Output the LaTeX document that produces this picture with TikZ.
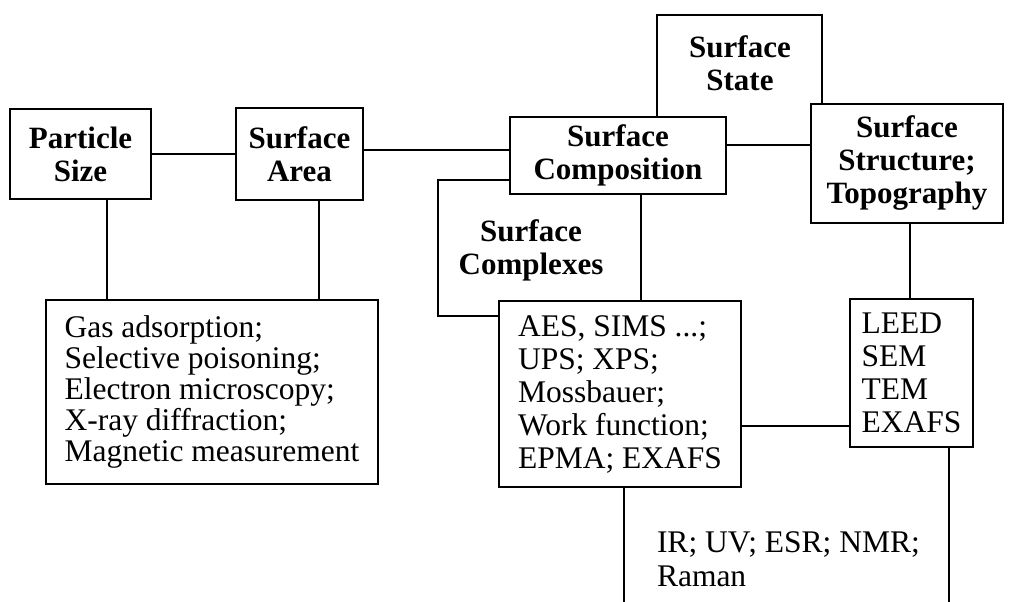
\documentclass[tikz,border=0pt]{standalone}
\usepackage{fontspec}
\setmainfont{Liberation Serif}
\begin{document}
\begin{tikzpicture}[x=1pt,y=-1pt,line width=2pt,
  box/.style={draw,fill=white,rectangle,inner sep=0pt,line width=2pt},
  head/.style={font=\fontsize{31}{33}\selectfont\bfseries,align=center},
  body/.style={font=\fontsize{31.5}{#1}\selectfont,align=left},
  body/.default=32]
\useasboundingbox (0,0) rectangle (1012,602);
% coordinates for connector positions
\coordinate (xP) at (107,0);
\coordinate (xA) at (319,0);
\coordinate (yAC) at (0,150);
\coordinate (xL) at (910,0);
\coordinate (yAL) at (0,426);
\coordinate (xAd) at (624,0);
\coordinate (xLd) at (949,0);
\coordinate (bot) at (0,602);
% partially hidden boxes
\node[box,minimum width=165,minimum height=130] (state) at (739.5,80) {};
\node[head,inner sep=0pt] (statet) at (740,63) {Surface\\State};
\node[box,minimum width=203,minimum height=136] (cplx) at (539.5,248) {};
\node[head,inner sep=0pt] (cplxt) at (531,250) {Surface\\Complexes};
% front boxes
\node[box,head,minimum width=141,minimum height=90] (ps) at (80.5,154) {Particle\\Size};
\node[box,head,minimum width=127,minimum height=92] (sa) at (299.5,154) {Surface\\Area};
\node[box,head,minimum width=216,minimum height=77] (comp) at (618,155.5) {Surface\\Composition};
\node[box,head,minimum width=192,minimum height=119] (struct) at (907,163.5) {Surface\\Structure;\\Topography};
\node[box,body=31,minimum width=332,minimum height=184] (gas) at (212,392)
  {Gas adsorption;\\Selective poisoning;\\Electron microscopy;\\X-ray diffraction;\\Magnetic measurement};
\node[box,body=33,minimum width=242,minimum height=186] (aes) at (620,394)
  {AES, SIMS ...;\\UPS; XPS;\\Mossbauer;\\Work function;\\EPMA; EXAFS};
\node[box,body=33,minimum width=123,minimum height=148] (leed) at (911.5,373)
  {LEED\\SEM\\TEM\\EXAFS};
\node[body=34,inner sep=0pt,anchor=west] (ir) at (656,559.5) {IR; UV; ESR; NMR;\\Raman};
% connectors
\draw (ps.east) -- (ps.east -| sa.west);
\draw (sa.east |- yAC) -- (comp.west |- yAC);
\draw (ps.south -| xP) -- (gas.north -| xP);
\draw (sa.south -| xA) -- (gas.north -| xA);
\draw (struct.south -| xL) -- (leed.north -| xL);
\draw (aes.east |- yAL) -- (leed.west |- yAL);
\draw (aes.south -| xAd) -- (bot -| xAd);
\draw (leed.south -| xLd) -- (bot -| xLd);
\end{tikzpicture}
\end{document}
